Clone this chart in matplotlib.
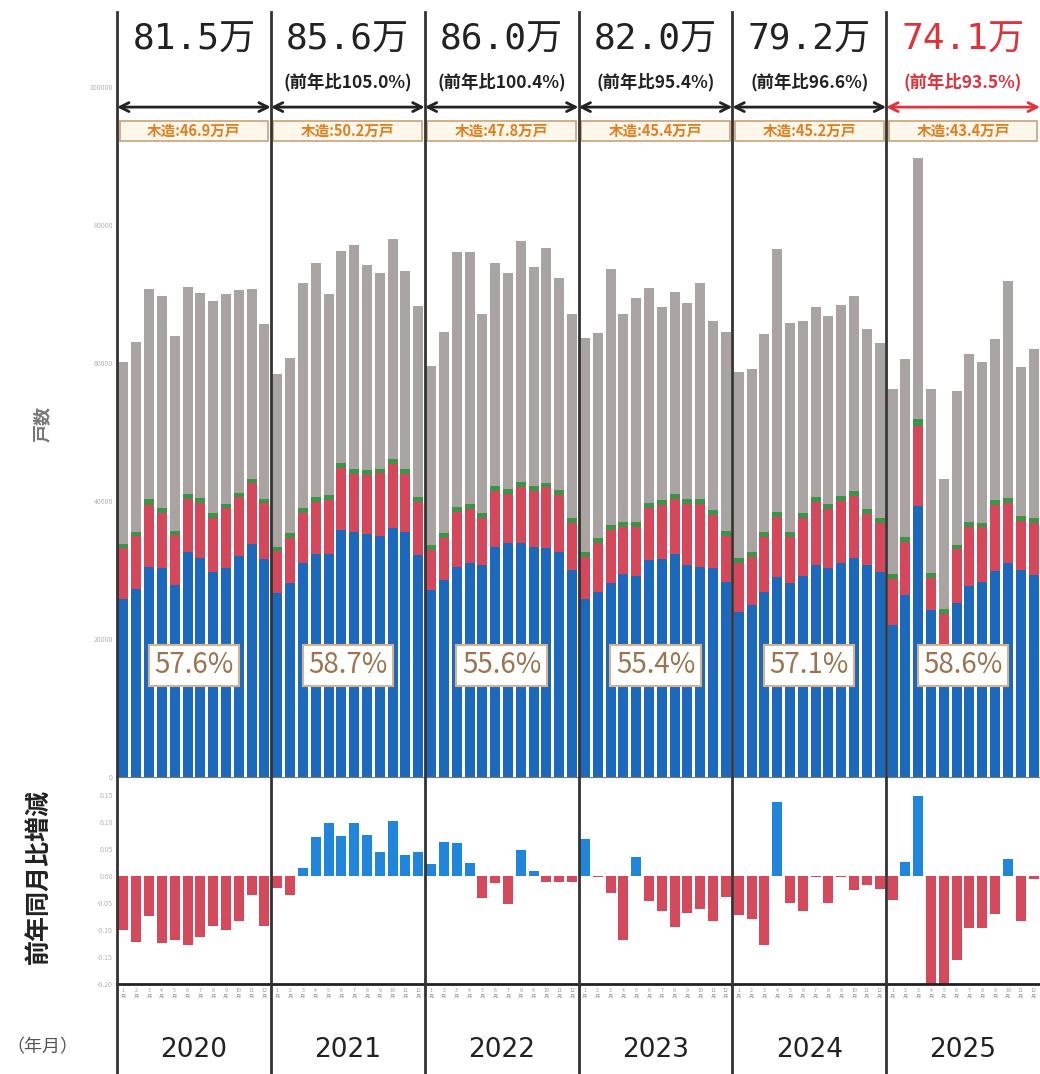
import matplotlib
matplotlib.use('Agg')
import matplotlib.pyplot as plt
import matplotlib.transforms as mtransforms
from matplotlib.patches import Rectangle
from matplotlib.lines import Line2D
import numpy as np

plt.rcParams['font.family'] = ['Noto Sans CJK JP', 'DejaVu Sans']

# 年ごとの注記
years = ['2020', '2021', '2022', '2023', '2024', '2025']
annual_total = ['81.5万', '85.6万', '86.0万', '82.0万', '79.2万', '74.1万']
annual_yoy = ['', '(前年比105.0%)', '(前年比100.4%)', '(前年比95.4%)', '(前年比96.6%)', '(前年比93.5%)']
wooden_total = ['木造:46.9万戸', '木造:50.2万戸', '木造:47.8万戸', '木造:45.4万戸', '木造:45.2万戸', '木造:43.4万戸']
wooden_share = ['57.6%', '58.7%', '55.6%', '55.4%', '57.1%', '58.6%']

# 月次の戸数（2020年1月〜2025年12月）
total = [60200, 63100, 70700, 69700, 63900, 71100, 70200, 69100, 70100, 70600, 70700, 65700,
         58400, 60700, 71700, 74500, 70100, 76300, 77100, 74200, 73100, 78000, 73400, 68300,
         59600, 64600, 76200, 76200, 67200, 74600, 73100, 77800, 74000, 76700, 72400, 67200,
         63600, 64400, 73700, 67200, 69500, 70900, 68100, 70300, 68800, 71700, 66200, 64600,
         58800, 59200, 64300, 76600, 65900, 66200, 68100, 66900, 68500, 69700, 65000, 63000,
         56200, 60600, 89700, 56200, 43200, 56000, 61400, 60200, 63500, 71900, 59400, 62100]
blue = [25800, 27200, 30500, 30300, 27900, 32700, 31700, 29800, 30300, 32000, 33800, 31600,
        26700, 28100, 31100, 32300, 32400, 35800, 35600, 35300, 35000, 36100, 35600, 32200,
        27100, 28600, 30500, 31000, 30700, 33400, 33900, 33900, 33400, 33200, 32700, 30000,
        25800, 26900, 28100, 29500, 29100, 31500, 31600, 32300, 30700, 30500, 30300, 28300,
        24000, 24900, 26900, 29000, 28100, 29100, 30700, 30300, 31000, 31700, 30700, 29800,
        22000, 26400, 39300, 24200, 17500, 25200, 27700, 28300, 29900, 31100, 30000, 29300]
red = [7350, 7750, 8940, 7930, 7190, 7600, 8080, 7710, 8660, 8640, 8790, 8100,
       6070, 6600, 7130, 7620, 7770, 9050, 8400, 8490, 9100, 9240, 8400, 7720,
       5800, 6000, 7970, 7810, 6810, 8070, 7090, 8200, 8120, 8800, 8190, 6790,
       6140, 6980, 7720, 6790, 7190, 7460, 7840, 8010, 8890, 9090, 7690, 6650,
       6990, 7040, 7950, 8750, 6750, 8410, 9130, 8560, 9020, 9090, 7440, 6990,
       6700, 7700, 11600, 4700, 6200, 7800, 8600, 7900, 9600, 8600, 7100, 7600]
green = [620, 620, 820, 730, 630, 690, 720, 720, 630, 610, 700, 600,
         630, 630, 730, 730, 720, 750, 730, 710, 630, 720, 730, 730,
         740, 730, 720, 730, 720, 730, 730, 720, 680, 680, 730, 720,
         730, 720, 720, 730, 730, 730, 730, 730, 720, 720, 730, 720,
         720, 730, 720, 720, 720, 720, 720, 730, 720, 730, 720, 720,
         700, 700, 1000, 700, 700, 700, 700, 700, 700, 700, 700, 700]

# 前年同月比増減
yoy = [-0.100, -0.123, -0.075, -0.124, -0.119, -0.128, -0.113, -0.092, -0.100, -0.083, -0.036, -0.092,
       -0.022, -0.036, 0.014, 0.072, 0.097, 0.074, 0.097, 0.076, 0.044, 0.102, 0.038, 0.044,
       0.022, 0.062, 0.061, 0.023, -0.041, -0.014, -0.052, 0.047, 0.009, -0.012, -0.012, -0.012,
       0.067, -0.002, -0.031, -0.119, 0.034, -0.046, -0.066, -0.094, -0.069, -0.061, -0.084, -0.039,
       -0.073, -0.080, -0.128, 0.136, -0.050, -0.066, -0.002, -0.050, -0.002, -0.027, -0.017, -0.025,
       -0.044, 0.025, 0.147, -0.27, -0.34, -0.156, -0.096, -0.097, -0.071, 0.031, -0.084, -0.006]

BLUE = '#1c68bd'
RED = '#d5475a'
GREEN = '#3b9447'
GRAY = '#a9a3a2'

x = np.arange(len(total))
blue_a = np.array(blue)
red_a = np.array(red)
green_a = np.array(green)
gray_a = np.array(total) - blue_a - red_a - green_a

fig = plt.figure(figsize=(10.4, 10.74), dpi=100)
ax = fig.add_axes([0.1125, 0.2765, 0.8875, 0.7095])
ax2 = fig.add_axes([0.1125, 0.0838, 0.8875, 0.189])

w = 0.78
ax.bar(x, blue_a, width=w, color=BLUE)
ax.bar(x, red_a, bottom=blue_a, width=w, color=RED)
ax.bar(x, green_a, bottom=blue_a + red_a, width=w, color=GREEN)
ax.bar(x, gray_a, bottom=blue_a + red_a + green_a, width=w, color=GRAY)

ax.set_xlim(-0.5, 71.5)
ax.set_ylim(0, 110500)
ax.set_yticks([0, 20000, 40000, 60000, 80000, 100000])
ax.tick_params(axis='y', length=0, labelsize=5, labelcolor='#b5b5b5', pad=3)
ax.tick_params(axis='x', length=0, labelbottom=False)
for s in ['top', 'right', 'left']:
    ax.spines[s].set_visible(False)
ax.spines['bottom'].set_color('#777777')

# 年ごとの注記
for k in range(len(years)):
    xc = 12 * k + 5.5
    col = '#e0323c' if k == len(years) - 1 else '#222222'
    ax.text(xc, 106900, annual_total[k], ha='center', va='center', fontsize=26,
            family=['DejaVu Sans Mono', 'Noto Sans CJK JP'], color=col)
    if annual_yoy[k]:
        ax.text(xc, 100800, annual_yoy[k], ha='center', va='center', fontsize=12.5,
                weight='bold', color=col)
    ax.annotate('', xy=(12 * k - 0.5, 97150), xytext=(12 * k + 11.5, 97150),
                arrowprops=dict(arrowstyle='<->', lw=2, color=col, mutation_scale=16,
                                shrinkA=0, shrinkB=0))
    ax.add_patch(Rectangle((12 * k - 0.3, 92200), 11.6, 3000, fc='#fdf6ea', ec='#c9a27a', lw=1.2))
    ax.text(xc, 93700, wooden_total[k], ha='center', va='center', fontsize=10.5,
            weight='bold', color='#e07f1f')
    ax.text(xc, 16200, wooden_share[k], ha='center', va='center', fontsize=20, color='#9a7550',
            bbox=dict(boxstyle='square,pad=0.2', fc='white', ec='#d8b38a', lw=1.5))

# 前年同月比
colors = ['#1f86dc' if v >= 0 else '#d44a5c' for v in yoy]
ax2.bar(x, yoy, width=w, color=colors)
ax2.set_xlim(-0.5, 71.5)
ax2.set_ylim(-0.20, 0.175)
yt = [-0.20, -0.15, -0.10, -0.05, 0.00, 0.05, 0.10, 0.15]
ax2.set_yticks(yt)
ax2.set_yticklabels([f'{v:.2f}' for v in yt])
ax2.tick_params(axis='y', length=0, labelsize=5, labelcolor='#b5b5b5', pad=3)
ax2.set_xticks(x)
ax2.set_xticklabels([f'{i % 12 + 1}\n月' for i in x], fontsize=3.8, color='#999999', linespacing=1.1)
ax2.tick_params(axis='x', length=0, pad=3)
for s in ['top', 'right', 'left']:
    ax2.spines[s].set_visible(False)
ax2.spines['bottom'].set_linewidth(2)
ax2.spines['bottom'].set_color('#222222')

trans = mtransforms.blended_transform_factory(ax2.transData, fig.transFigure)
for k in range(len(years)):
    ax2.text(12 * k + 5.5, 0.0223, years[k], transform=trans, ha='center', va='center',
             fontsize=19, color='#222222', family=['DejaVu Sans', 'Noto Sans CJK JP'])
    xs = 12 * k - 0.5
    fig.add_artist(Line2D([xs, xs], [0, 0.989], transform=trans, color='#333333', lw=2))

fig.text(0.041, 1 - 424 / 1074, '戸数', rotation=90, fontsize=13, color='#777777',
         weight='bold', ha='center', va='center')
fig.text(0.037, 1 - 877 / 1074, '前年同月比増減', rotation=90, fontsize=18, color='#222222',
         weight='bold', ha='center', va='center')
fig.text(0.041, 1 - 1047 / 1074, '（年月）', fontsize=13, color='#555555',
         ha='center', va='center')

fig.savefig('out.png', dpi=100)
